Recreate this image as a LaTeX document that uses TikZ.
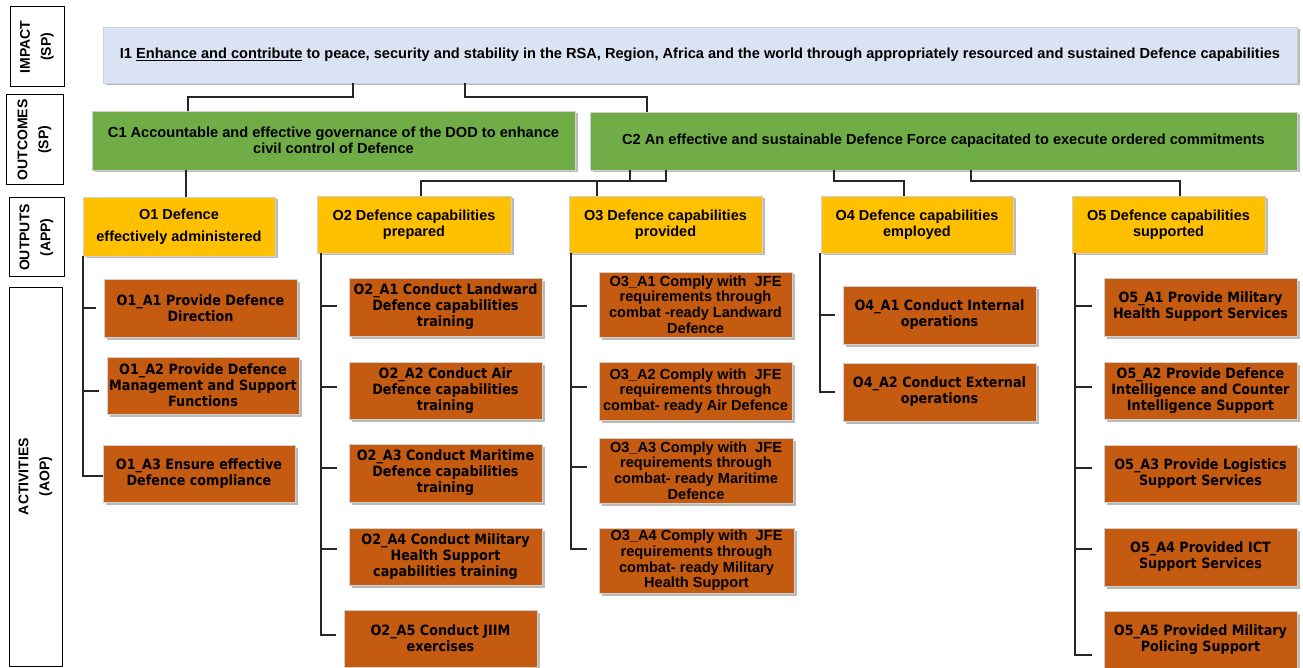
\documentclass[tikz,border=0pt]{standalone}
\usepackage{fontspec}
\setmainfont{Liberation Sans}
\newfontfamily\actfont{DejaVu Sans Condensed}
\usetikzlibrary{shadows}
\definecolor{impfill}{HTML}{DAE3F3}
\definecolor{outcfill}{HTML}{70AD47}
\definecolor{outpfill}{HTML}{FFC000}
\definecolor{actfill}{HTML}{C55A11}
\definecolor{edge}{HTML}{D0D0D0}

% \drawbox{style}{x1}{y1}{x2}{y2}{name}{text}
\newcommand\drawbox[7]{%
  \node[#1, minimum width={(#4-#2)*1pt}, minimum height={(#5-#3)*1pt}]
    (#6) at ({(#2+#4)/2},{(#3+#5)/2}) {#7};}

\begin{document}
\begin{tikzpicture}[x=1pt,y=-1pt,
  every node/.style={inner sep=0pt, outer sep=0pt},
  lab/.style={draw=black, line width=1pt, fill=white, rotate=90, align=center,
    font=\bfseries\fontsize{14}{21}\selectfont},
  shade/.style={drop shadow={shadow xshift=2.5pt, shadow yshift=-2.5pt,
    fill=black!45, opacity=0.6}},
  box/.style={shade, draw=edge, line width=0.6pt, align=center},
  impbox/.style={box, fill=impfill, font=\bfseries\fontsize{14.6}{17}\selectfont},
  outcbox/.style={box, fill=outcfill, font=\bfseries\fontsize{14.6}{15.5}\selectfont},
  outpbox/.style={box, fill=outpfill, font=\bfseries\fontsize{14.5}{16}\selectfont},
  actbox/.style={box, fill=actfill, font=\actfont\bfseries\fontsize{14.2}{16}\selectfont},
  actboxb/.style={box, fill=actfill, font=\bfseries\fontsize{14.6}{15.7}\selectfont},
  conn/.style={draw=black!85, line width=1.2pt}]
\useasboundingbox (0,0) rectangle (1303,668);
\clip (0,0) rectangle (1303,668);

% level labels
\node[lab, minimum width=80pt, minimum height=54pt] (limp) at (37,47) {IMPACT\\(SP)};
\node[lab, minimum width=90pt, minimum height=57pt] (loutc) at (34.5,140) {OUTCOMES\\(SP)};
\node[lab, minimum width=79pt, minimum height=55pt] (loutp) at (36.5,237.5) {OUTPUTS\\(APP)};
\node[lab, minimum width=379pt, minimum height=53pt] (lact) at (35.5,476.5) {ACTIVITIES\\(AOP)};

% impact and outcomes
\drawbox{impbox}{103}{27}{1297}{83}{imp}{I1 \underline{Enhance and contribute} to peace, security and stability in the RSA, Region, Africa and the world through appropriately resourced and sustained Defence capabilities}
\drawbox{outcbox}{92}{111}{575}{170}{c1}{C1 Accountable and effective governance of the DOD to enhance\\civil control of Defence}
\drawbox{outcbox}{590}{112}{1297}{170}{c2}{C2 An effective and sustainable Defence Force capacitated to execute ordered commitments}

% outputs
\drawbox{outpbox}{83}{197}{275}{256}{o1}{O1 Defence\\[6pt]effectively administered}
\drawbox{outpbox}{317}{196}{511}{253}{o2}{O2 Defence capabilities\\prepared}
\drawbox{outpbox}{569}{196}{762}{253}{o3}{O3 Defence capabilities\\provided}
\drawbox{outpbox}{821}{196}{1013}{253}{o4}{O4 Defence capabilities\\employed}
\drawbox{outpbox}{1072}{196}{1265}{253}{o5}{O5 Defence capabilities\\supported}

% activities of O1
\drawbox{actbox}{104}{279}{297}{337}{a11}{O1\_A1 Provide Defence\\Direction}
\drawbox{actbox}{107}{357}{299}{414}{a12}{O1\_A2 Provide Defence\\Management and Support\\Functions}
\drawbox{actbox}{103}{445}{295}{502}{a13}{O1\_A3 Ensure effective\\Defence compliance}
% activities of O2
\drawbox{actbox}{349}{278}{542}{336}{a21}{O2\_A1 Conduct Landward\\Defence capabilities\\training}
\drawbox{actbox}{349}{362}{542}{419}{a22}{O2\_A2 Conduct Air\\Defence capabilities\\training}
\drawbox{actbox}{349}{444}{542}{502}{a23}{O2\_A3 Conduct Maritime\\Defence capabilities\\training}
\drawbox{actbox}{349}{528}{542}{585}{a24}{O2\_A4 Conduct Military\\Health Support\\capabilities training}
\drawbox{actbox}{344}{610}{537}{667}{a25}{O2\_A5 Conduct JIIM\\exercises}
% activities of O3
\drawbox{actboxb}{599}{272}{792}{337}{a31}{O3\_A1 Comply with~ JFE\\requirements through\\combat -ready Landward\\Defence}
\drawbox{actboxb}{599}{362}{792}{420}{a32}{O3\_A2 Comply with~ JFE\\requirements through\\combat- ready Air Defence}
\drawbox{actboxb}{599}{438}{793}{503}{a33}{O3\_A3 Comply with~ JFE\\requirements through\\combat- ready Maritime\\Defence}
\drawbox{actboxb}{599}{528}{794}{593}{a34}{O3\_A4 Comply with~ JFE\\requirements through\\combat- ready Military\\Health Support}
% activities of O4
\drawbox{actbox}{843}{286}{1036}{344}{a41}{O4\_A1 Conduct Internal\\operations}
\drawbox{actbox}{843}{363}{1036}{421}{a42}{O4\_A2 Conduct External\\operations}
% activities of O5
\drawbox{actbox}{1104}{278}{1297}{336}{a51}{O5\_A1 Provide Military\\Health Support Services}
\drawbox{actbox}{1104}{362}{1297}{419}{a52}{O5\_A2 Provide Defence\\Intelligence and Counter\\Intelligence Support}
\drawbox{actbox}{1104}{445}{1297}{502}{a53}{O5\_A3 Provide Logistics\\Support Services}
\drawbox{actbox}{1104}{528}{1297}{586}{a54}{O5\_A4 Provided ICT\\Support Services}
\drawbox{actbox}{1104}{611}{1297}{668}{a55}{O5\_A5 Provided Military\\Policing Support}

% junction points of the elbow connectors
\coordinate (j1) at (353,97);
\coordinate (j2) at (465,97);
\coordinate (k1) at (630,181);
\coordinate (k2) at (666,181);
\coordinate (k3) at (834,181);
\coordinate (k4) at (971,181);

% impact to outcomes
\draw[conn] (imp.south -| j1) -- (j1) -| (c1.north -| 188,0);
\draw[conn] (imp.south -| j2) -- (j2) -| (c2.north -| 647,0);
% outcomes to outputs
\draw[conn] (c1.south -| 186,0) -- (o1.north -| 186,0);
\draw[conn] (c2.south -| k1) -- (k1);
\draw[conn] (c2.south -| k2) -- (k2) -| (o2.north -| 421,0);
\draw[conn] (k1 -| 597,0) -- (o3.north -| 597,0);
\draw[conn] (c2.south -| k3) -- (k3) -| (o4.north -| 904,0);
\draw[conn] (c2.south -| k4) -- (k4) -| (o5.north -| 1180,0);

% outputs to activities
\draw[conn] (o1.south -| 83,0) |- ([yshift=-2.5pt]a13.west);
\draw[conn] (a11.west -| 83,0) -- ([xshift=-8pt]a11.west);
\draw[conn] ([yshift=-5.5pt]a12.west -| 83,0) -- ([xshift=-8pt,yshift=-5.5pt]a12.west);

\draw[conn] (o2.south -| 321,0) |- ([xshift=-8pt,yshift=3.5pt]a25.west);
\draw[conn] ([yshift=1pt]a21.west -| 321,0) -- ([xshift=-12pt,yshift=1pt]a21.west);
\draw[conn] ([yshift=3.5pt]a22.west -| 321,0) -- ([xshift=-12pt,yshift=3.5pt]a22.west);
\draw[conn] ([yshift=5pt]a23.west -| 321,0) -- ([xshift=-12pt,yshift=5pt]a23.west);
\draw[conn] ([yshift=7.5pt]a24.west -| 321,0) -- ([xshift=-12pt,yshift=7.5pt]a24.west);

\draw[conn] (o3.south -| 571,0) |- ([xshift=-12pt,yshift=11.5pt]a34.west);
\draw[conn] ([yshift=-1.5pt]a31.west -| 571,0) -- ([xshift=-12pt,yshift=-1.5pt]a31.west);
\draw[conn] ([yshift=4pt]a32.west -| 571,0) -- ([xshift=-12pt,yshift=4pt]a32.west);
\draw[conn] ([yshift=3.5pt]a33.west -| 571,0) -- ([xshift=-12pt,yshift=3.5pt]a33.west);

\draw[conn] (o4.south -| 820,0) |- ([xshift=-8pt]a42.west);
\draw[conn] (a41.west -| 820,0) -- ([xshift=-8pt]a41.west);

\draw[conn] (o5.south -| 1075,0) |- ([xshift=-12pt,yshift=-15.5pt]a55.west);
\draw[conn] ([yshift=1pt]a51.west -| 1075,0) -- ([xshift=-12pt,yshift=1pt]a51.west);
\draw[conn] ([yshift=3.5pt]a52.west -| 1075,0) -- ([xshift=-12pt,yshift=3.5pt]a52.west);
\draw[conn] ([yshift=5.5pt]a53.west -| 1075,0) -- ([xshift=-12pt,yshift=5.5pt]a53.west);
\draw[conn] ([yshift=8pt]a54.west -| 1075,0) -- ([xshift=-12pt,yshift=8pt]a54.west);
\end{tikzpicture}
\end{document}
